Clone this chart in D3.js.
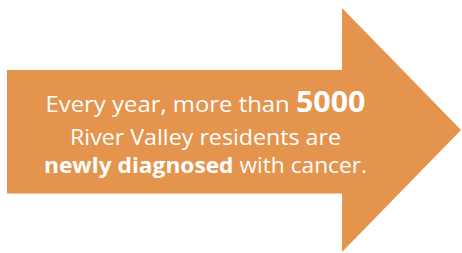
<!DOCTYPE html>
<html><head><meta charset="utf-8">
<script src="https://cdn.jsdelivr.net/npm/d3@7"></script>
<style>html,body{margin:0;padding:0;background:#fff;}svg{display:block;}</style>
</head><body>
<script>
// Content
const headline = "5000";
const lines = [
  [{t:"Every year, more than ", b:false, big:false}, {t:headline, b:true, big:true}],
  [{t:"River Valley residents are", b:false, big:false}],
  [{t:"newly diagnosed", b:true, big:false}, {t:" with cancer.", b:false, big:false}]
];
// Arrow proportions (fractions of width/height of the shape box)
const shaftTop = 0.254, shaftBottom = 0.76, headStart = 0.738;

const W = 462, H = 253;
const svg = d3.select("body").append("svg").attr("width", W).attr("height", H);
const x = d3.scaleLinear().domain([0, 1]).range([7, 461]);
const y = d3.scaleLinear().domain([0, 1]).range([8, 252]);
const pts = [[0,shaftTop],[headStart,shaftTop],[headStart,0],[1,0.5],[headStart,1],[headStart,shaftBottom],[0,shaftBottom]];
svg.append("path")
  .attr("d", d3.line().x(d=>x(d[0])).y(d=>y(d[1]))(pts) + "Z")
  .attr("fill", "#E5944D");

const baselines = [112, 145, 173];
const targetW = [320, 271, 323];
const cx = 205.5;
lines.forEach((ln, i) => {
  const t = svg.append("text")
    .attr("x", cx).attr("y", baselines[i])
    .attr("text-anchor", "middle")
    .attr("fill", "#fff")
    .attr("font-family", "'Open Sans', sans-serif")
    .attr("font-size", 22);
  ln.forEach(s => {
    t.append("tspan").text(s.t)
      .attr("font-weight", s.b ? 700 : 400)
      .attr("font-size", s.big ? 28 : null);
  });
  const w = t.node().getComputedTextLength();
  t.attr("textLength", targetW[i]).attr("lengthAdjust", "spacingAndGlyphs");
});
</script>
</body></html>
